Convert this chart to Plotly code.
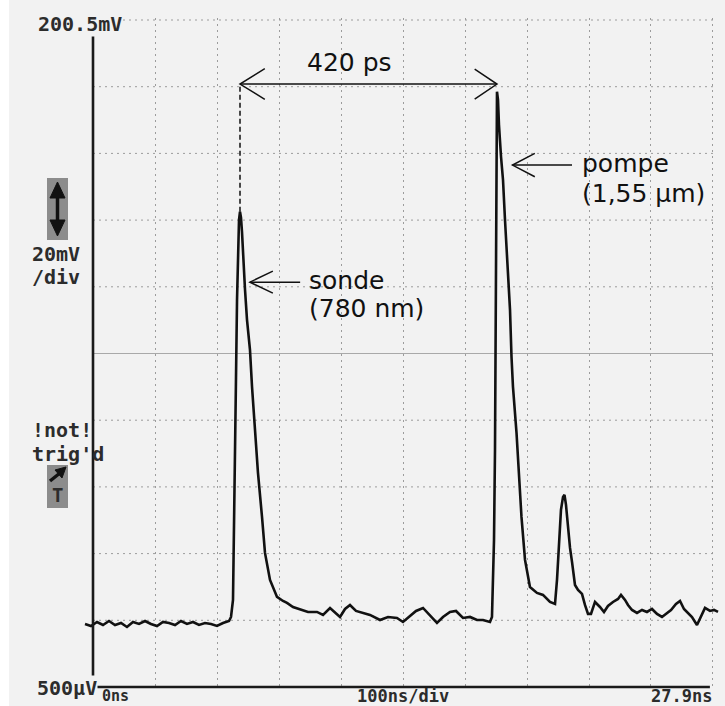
import plotly.graph_objects as go

# ---------------- data (time in ns, voltage in mV) ----------------
t_base1 = [-12.9, -3.2, 6.5, 16.1, 25.8, 35.5, 45.2, 54.8, 64.5, 74.2, 83.9, 93.5,
           103.2, 112.9, 122.6, 132.3, 141.9, 151.6, 161.3, 171.0, 180.6, 190.3,
           200.0, 209.7, 219.4]
v_base1 = [19.4, 18.8, 20.0, 19.1, 20.3, 19.1, 19.7, 18.5, 20.0, 19.4, 20.3, 19.4,
           18.8, 20.0, 19.7, 19.1, 20.3, 19.4, 20.0, 19.1, 19.7, 19.4, 18.8, 19.7, 20.3]

t_sonde = [222.6, 225.8, 227.4, 229.0, 230.6, 232.3, 233.9, 235.5, 237.1, 238.7,
           240.3, 241.9, 245.2, 248.4, 253.2, 256.5, 261.3, 266.1, 272.6, 277.4,
           285.5, 296.8, 306.5, 312.9, 322.6]
v_sonde = [21.5, 26.6, 44.6, 65.6, 92.6, 116.6, 131.6, 140.6, 143.0, 141.2,
           137.0, 130.1, 119.6, 110.6, 101.6, 90.5, 76.7, 64.7, 51.5, 40.7,
           32.6, 27.5, 26.3, 25.7, 24.5]

t_base2 = [333.9, 346.8, 361.3, 371.0, 382.3, 391.9, 398.4, 406.5, 414.5, 424.2,
           435.5, 446.8, 462.9, 475.8, 490.3, 500.0, 511.3, 521.0, 532.3, 543.5,
           554.8, 564.5, 575.8, 585.5, 596.8, 608.1, 619.4, 629.0, 640.3]
v_base2 = [23.9, 23.0, 23.0, 22.1, 24.2, 22.4, 21.5, 23.9, 25.1, 23.3,
           22.7, 22.1, 20.6, 21.5, 21.2, 20.0, 21.8, 23.3, 24.2, 22.1,
           19.7, 21.5, 23.0, 23.3, 21.2, 21.5, 20.6, 20.6, 20.0]

t_pompe = [643.5, 645.2, 646.8, 648.4, 649.2, 650.0, 650.4, 650.8, 651.6, 653.2,
           654.8, 658.1, 661.3, 664.5, 669.4, 672.6, 675.0, 677.4, 683.1, 687.1,
           691.1, 696.8, 704.8, 716.1, 725.8, 737.1, 745.2]
v_pompe = [21.5, 31.7, 44.6, 71.6, 98.6, 131.6, 161.6, 173.6, 179.0, 176.6,
           169.1, 159.5, 152.6, 140.6, 125.6, 113.6, 99.5, 90.5, 76.7, 62.6,
           51.5, 38.6, 30.5, 28.7, 28.1, 26.0, 25.4]

t_tail = [748.4, 751.6, 754.8, 758.1, 760.5, 762.9, 766.1, 769.4, 772.6, 777.4,
          782.3, 788.7, 793.5, 798.4, 803.2, 809.7, 817.7, 824.2, 830.6, 838.7,
          846.8, 851.6, 858.1, 862.9, 869.4, 877.4, 885.5, 893.5, 901.6, 909.7,
          917.7, 924.2, 932.3, 940.3, 946.8, 953.2, 959.7, 966.1, 974.2, 980.6,
          987.1, 995.2, 1001.6, 1008.1]
v_tail = [32.6, 44.6, 53.6, 57.5, 58.1, 55.1, 47.6, 42.2, 38.0, 31.1,
          29.6, 28.4, 25.1, 22.4, 22.4, 26.0, 24.5, 23.0, 24.8, 26.0,
          26.9, 28.1, 26.6, 25.1, 23.6, 22.7, 23.6, 23.0, 23.9, 22.4,
          21.5, 22.4, 23.6, 25.4, 26.3, 23.9, 22.7, 21.5, 19.1, 21.5,
          24.2, 23.3, 23.6, 23.0]

x_div_ns = [0, 100, 200, 300, 400, 500, 600, 700, 800, 900, 1000]
y_div_mv = [0.5, 20.5, 40.5, 60.5, 80.5, 100.5, 120.5, 140.5, 160.5, 180.5, 200.5]

label_delay = "420 ps"
label_probe = ["sonde", "(780 nm)"]
label_pump = ["pompe", "(1,55 µm)"]
scope_top = "200.5mV"
scope_bottom = "500µV"
scope_vdiv = ["20mV", "/div"]
scope_trig = ["!not!", "trig'd", "T"]
scope_time = ["0ns", "100ns/div", "27.9ns"]

time_ns = t_base1 + t_sonde + t_base2 + t_pompe + t_tail
volt_mv = v_base1 + v_sonde + v_base2 + v_pompe + v_tail

# ---------------- geometry ----------------
W, H = 725, 706
ML, MR, MT, MB = 84, 5, 18, 16
X_RANGE = [-14.52, 1011.3]
Y_RANGE = [-0.40, 201.1]
BG = "#f2f2f2"
INK = "#111111"
SCOPE_INK = "#2c2c2c"


def paper_x(px):
    return (px - ML) / (W - ML - MR)


def paper_y(py):
    return (H - MB - py) / (H - MT - MB)


def ppath(points, close=False):
    s = "M " + " L ".join(f"{paper_x(a):.5f},{paper_y(b):.5f}" for a, b in points)
    return s + (" Z" if close else "")


# peaks
i_s = max((i for i, t in enumerate(time_ns) if t < 400), key=lambda i: volt_mv[i])
i_p = max(range(len(time_ns)), key=lambda i: volt_mv[i])
ts, vs = time_ns[i_s], volt_mv[i_s]
tp, vp = time_ns[i_p], volt_mv[i_p]

fig = go.Figure()
fig.add_trace(go.Scatter(x=time_ns, y=volt_mv, mode="lines",
                         line=dict(color=INK, width=2.6), hoverinfo="skip"))

shapes = []
# white strip at the left of the photo
shapes.append(dict(type="rect", xref="paper", yref="paper",
                   x0=paper_x(0), x1=paper_x(9), y0=paper_y(H), y1=paper_y(0),
                   fillcolor="white", line=dict(width=0), layer="below"))
# horizontal graticule
for v in y_div_mv[1:]:
    if v == y_div_mv[5]:
        shapes.append(dict(type="line", xref="x", yref="y", x0=x_div_ns[0], x1=x_div_ns[-1],
                           y0=v, y1=v, line=dict(color="#a9a9a9", width=1), layer="below"))
    else:
        shapes.append(dict(type="line", xref="x", yref="y", x0=x_div_ns[0], x1=x_div_ns[-1],
                           y0=v, y1=v, line=dict(color="#9c9c9c", width=1, dash="2px,4px"),
                           layer="below"))
# axis lines
shapes.append(dict(type="line", xref="x", yref="y", x0=0, x1=0, y0=y_div_mv[0], y1=y_div_mv[-1],
                   line=dict(color="#1a1a1a", width=2.6)))
shapes.append(dict(type="line", xref="x", yref="y", x0=x_div_ns[0], x1=x_div_ns[-1] - 5,
                   y0=y_div_mv[0], y1=y_div_mv[0], line=dict(color="#1a1a1a", width=2.6)))

# 420 ps double arrow + dashed guide
ya = 181.3
shapes.append(dict(type="line", xref="x", yref="y", x0=ts, x1=ts, y0=vs, y1=ya,
                   line=dict(color=INK, width=1.5, dash="5px,3px")))
shapes.append(dict(type="path", xref="x", yref="y",
                   path=f"M {ts},{ya} L {tp},{ya}", line=dict(color=INK, width=1.5)))
shapes.append(dict(type="path", xref="x", yref="y",
                   path=f"M {ts + 40},{ya + 4.6} L {ts},{ya} L {ts + 40},{ya - 4.6}",
                   line=dict(color=INK, width=1.5)))
shapes.append(dict(type="path", xref="x", yref="y",
                   path=f"M {tp - 36},{ya + 4.5} L {tp},{ya} L {tp - 36},{ya - 4.5}",
                   line=dict(color=INK, width=1.5)))

# sonde arrow
ys_arr, tip_s, tail_s = 121.9, ts + 16, ts + 97
shapes.append(dict(type="path", xref="x", yref="y",
                   path=f"M {tail_s},{ys_arr} L {tip_s},{ys_arr}", line=dict(color=INK, width=1.5)))
shapes.append(dict(type="path", xref="x", yref="y",
                   path=f"M {tip_s + 37},{ys_arr + 3.3} L {tip_s},{ys_arr} L {tip_s + 37},{ys_arr - 3.3}",
                   line=dict(color=INK, width=1.5)))
# pompe arrow
yp_arr, tip_p, tail_p = 157.0, tp + 25, tp + 121
shapes.append(dict(type="path", xref="x", yref="y",
                   path=f"M {tail_p},{yp_arr} L {tip_p},{yp_arr}", line=dict(color=INK, width=1.5)))
shapes.append(dict(type="path", xref="x", yref="y",
                   path=f"M {tip_p + 36},{yp_arr + 3.5} L {tip_p},{yp_arr} L {tip_p + 36},{yp_arr - 3.5}",
                   line=dict(color=INK, width=1.5)))

# grey indicator boxes on the left
shapes.append(dict(type="rect", xref="paper", yref="paper",
                   x0=paper_x(47), x1=paper_x(68), y0=paper_y(240), y1=paper_y(178),
                   fillcolor="#8c8c8c", line=dict(width=0)))
shapes.append(dict(type="line", xref="paper", yref="paper",
                   x0=paper_x(57.5), x1=paper_x(57.5), y0=paper_y(195), y1=paper_y(223),
                   line=dict(color="#111111", width=3.5)))
shapes.append(dict(type="path", xref="paper", yref="paper",
                   path=ppath([(57.5, 182), (50, 198), (65, 198)], close=True),
                   fillcolor="#111111", line=dict(color="#111111", width=1)))
shapes.append(dict(type="path", xref="paper", yref="paper",
                   path=ppath([(57.5, 236), (50, 220), (65, 220)], close=True),
                   fillcolor="#111111", line=dict(color="#111111", width=1)))
shapes.append(dict(type="rect", xref="paper", yref="paper",
                   x0=paper_x(47), x1=paper_x(68), y0=paper_y(508), y1=paper_y(465),
                   fillcolor="#8c8c8c", line=dict(width=0)))
shapes.append(dict(type="line", xref="paper", yref="paper",
                   x0=paper_x(50), x1=paper_x(60), y0=paper_y(481), y1=paper_y(473),
                   line=dict(color="#111111", width=3.5)))
shapes.append(dict(type="path", xref="paper", yref="paper",
                   path=ppath([(66, 467), (55, 470), (62, 478)], close=True),
                   fillcolor="#111111", line=dict(color="#111111", width=1)))

annotations = []
FONT = "DejaVu Sans, Verdana, sans-serif"
MONO = "DejaVu Sans Mono, Liberation Mono, monospace"


def lab(text, x, y, xanchor="left"):
    annotations.append(dict(text=text, x=x, y=y, xref="x", yref="y", showarrow=False,
                            xanchor=xanchor, yanchor="middle",
                            font=dict(family=FONT, size=25, color=INK)))


lab(label_delay, (ts + tp) / 2 - 30, 187.9, "center")
lab(label_probe[0], ts + 108, 122.5)
lab(label_probe[1], ts + 108, 114.1)
lab(label_pump[0], tp + 134, 157.6)
lab(label_pump[1], tp + 134, 148.6)


def scope(text, px, py, xanchor="left", bg=None, size=20):
    d = dict(text=f"<b>{text}</b>", x=paper_x(px), y=paper_y(py), xref="paper", yref="paper",
             showarrow=False, xanchor=xanchor, yanchor="middle",
             font=dict(family=MONO, size=size, color=SCOPE_INK), borderpad=0)
    if bg:
        d["bgcolor"] = bg
    annotations.append(d)


scope(scope_top, 123, 24, "right", BG)
scope(scope_vdiv[0], 31, 254, "left", size=20)
scope(scope_vdiv[1], 31, 277, "left", size=20)
scope(scope_trig[0], 31, 430, "left")
scope(scope_trig[1], 31, 454, "left")
scope(scope_trig[2], 57.5, 495, "center", size=19)
scope(scope_bottom, 98, 688, "right", BG)
scope(scope_time[0], 101, 696, "left", size=15)
scope(scope_time[1], 403, 696, "center", size=17)
scope(scope_time[2], 713, 696, "right", size=17)

fig.update_layout(
    width=W, height=H, autosize=False,
    margin=dict(l=ML, r=MR, t=MT, b=MB, pad=0),
    paper_bgcolor=BG, plot_bgcolor=BG,
    showlegend=False,
    xaxis=dict(range=X_RANGE, tickvals=x_div_ns, showticklabels=False, ticks="",
               showgrid=True, gridcolor="#9c9c9c", gridwidth=1, griddash="2px,4px",
               zeroline=False, showline=False, fixedrange=True),
    yaxis=dict(range=Y_RANGE, showticklabels=False, ticks="", showgrid=False,
               zeroline=False, showline=False, fixedrange=True),
    shapes=shapes,
    annotations=annotations,
)

fig.write_html("out.html", config={"displayModeBar": False, "staticPlot": True})

# remove the default page margin so the figure sits at the window's top-left corner
with open("out.html", "r", encoding="utf-8") as f:
    html = f.read()
html = html.replace("<head>", "<head><style>html,body{margin:0;padding:0;overflow:hidden;}</style>", 1)
with open("out.html", "w", encoding="utf-8") as f:
    f.write(html)
